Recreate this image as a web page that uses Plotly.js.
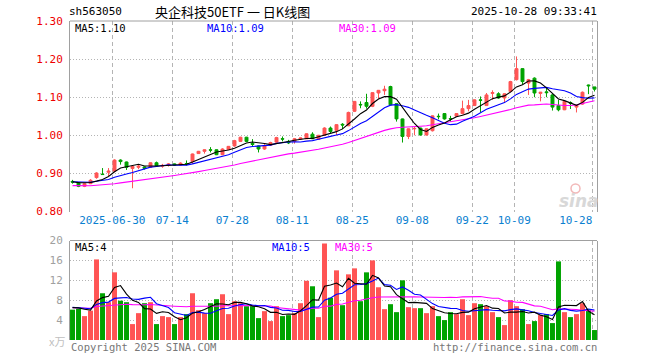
<!DOCTYPE html>
<html><head><meta charset="utf-8">
<script src="https://cdn.plot.ly/plotly-3.0.1.min.js"></script>
<style>html,body{margin:0;padding:0;background:#fff;}#c{width:660px;height:360px;}</style>
</head><body><div id="c"></div>
<script>
const dates = ["06-19","06-20","06-23","06-24","06-25","06-26","06-27","06-30",
"07-01","07-02","07-03","07-04","07-07","07-08","07-09","07-10","07-11","07-14","07-15","07-16","07-17","07-18","07-21","07-22","07-23","07-24","07-25","07-28","07-29","07-30","07-31",
"08-01","08-04","08-05","08-06","08-07","08-08","08-11","08-12","08-13","08-14","08-15","08-18","08-19","08-20","08-21","08-22","08-25","08-26","08-27","08-28","08-29",
"09-01","09-02","09-03","09-04","09-05","09-08","09-09","09-10","09-11","09-12","09-15","09-16","09-17","09-18","09-19","09-22","09-23","09-24","09-25","09-26","09-29","09-30",
"10-09","10-10","10-13","10-14","10-15","10-16","10-17","10-20","10-21","10-22","10-23","10-24","10-27","10-28"];

const openP = [0.879,0.876,0.866,0.873,0.889,0.898,0.903,0.906,0.935,0.930,
0.913,0.916,0.917,0.916,0.928,0.919,0.921,0.925,0.922,0.926,
0.931,0.952,0.958,0.962,0.962,0.949,0.963,0.972,0.984,0.995,
0.979,0.972,0.964,0.974,0.982,0.991,0.984,0.984,0.990,0.991,
1.003,0.989,1.000,1.019,1.013,1.029,1.025,1.063,1.081,1.086,
1.076,1.111,1.117,1.128,1.083,1.043,0.997,1.017,1.019,1.001,
1.012,1.050,1.057,1.044,1.050,1.057,1.070,1.078,1.093,1.078,
1.110,1.109,1.098,1.115,1.146,1.175,1.137,1.150,1.110,1.114,
1.106,1.078,1.067,1.086,1.074,1.082,1.132,1.127];

const highP = [0.883,0.877,0.874,0.885,0.903,0.914,0.914,0.937,0.937,0.931,
0.921,0.923,0.918,0.929,0.931,0.925,0.927,0.926,0.929,0.934,
0.952,0.959,0.963,0.969,0.963,0.966,0.972,0.988,0.996,0.996,
0.990,0.973,0.977,0.983,0.996,0.997,0.988,0.993,0.994,1.005,
1.008,1.001,1.021,1.023,1.029,1.032,1.062,1.090,1.089,1.109,
1.113,1.119,1.130,1.130,1.084,1.044,1.018,1.022,1.020,1.018,
1.052,1.057,1.058,1.051,1.058,1.091,1.093,1.094,1.102,1.111,
1.118,1.113,1.110,1.143,1.207,1.176,1.148,1.152,1.114,1.124,
1.108,1.093,1.090,1.089,1.080,1.115,1.133,1.127];

const lowP = [0.873,0.864,0.864,0.872,0.886,0.896,0.893,0.903,0.923,0.909,
0.861,0.911,0.910,0.915,0.918,0.915,0.918,0.920,0.921,0.921,
0.925,0.951,0.952,0.955,0.948,0.948,0.962,0.970,0.983,0.982,
0.970,0.955,0.962,0.972,0.980,0.984,0.977,0.978,0.989,0.990,
0.990,0.988,0.999,1.006,1.000,1.016,1.024,1.061,1.071,1.070,
1.074,1.096,1.106,1.079,1.036,0.981,0.990,1.000,0.999,0.999,
1.010,1.042,1.041,1.036,1.048,1.055,1.063,1.077,1.060,1.077,
1.093,1.096,1.085,1.113,1.144,1.133,1.106,1.100,1.089,1.100,
1.065,1.063,1.066,1.069,1.060,1.080,1.108,1.115];

const closeP = [0.877,0.866,0.873,0.882,0.901,0.897,0.906,0.935,0.931,0.916,
0.918,0.919,0.913,0.928,0.920,0.921,0.925,0.922,0.927,0.925,
0.951,0.958,0.962,0.961,0.949,0.964,0.971,0.986,0.995,0.984,
0.976,0.964,0.973,0.981,0.994,0.990,0.980,0.991,0.993,1.004,
0.991,1.000,1.019,1.010,1.028,1.027,1.060,1.089,1.080,1.076,
1.112,1.118,1.121,1.080,1.043,0.997,1.017,1.018,1.001,1.017,
1.051,1.049,1.043,1.043,1.057,1.070,1.078,1.093,1.092,1.106,
1.112,1.098,1.109,1.141,1.175,1.141,1.146,1.111,1.113,1.112,
1.074,1.067,1.089,1.084,1.079,1.113,1.130,1.121];

const volume = [6.1,6.3,4.8,5.9,16.2,9.4,7.6,13.6,7.9,7.6,
3.2,5.4,7.4,7.6,3.2,4.8,4.6,3.2,4.6,5.2,
9.4,6.0,5.4,7.4,8.2,9.2,5.2,7.8,7.4,6.8,
7.0,4.4,5.8,3.8,6.8,4.8,5.0,5.4,7.4,11.9,
10.8,4.6,19.4,8.5,14.0,7.0,13.2,14.4,7.8,13.6,
16.0,10.6,6.2,7.2,5.6,12.0,6.6,6.4,6.4,5.4,
6.8,4.8,4.0,5.6,5.2,8.2,5.0,7.4,7.2,6.8,
5.6,4.6,3.0,8.0,6.8,6.2,3.2,3.8,5.0,5.2,
3.4,15.8,5.6,4.6,5.2,7.4,6.2,2.0];

// earlier sessions (estimated) needed for the moving averages at the left edge
const preClose = [0.875,0.878,0.872,0.870,0.874,0.871,0.869,0.862,0.858,0.855,0.853,0.856,0.851,0.857,0.860,0.855,0.858,0.854,0.861,0.866,0.872,0.879,0.882,0.876,0.880,0.878,0.874,0.879,0.883];
const preVolume = [6.8,5.9,7.2,6.0,6.5,5.5,7.8,6.1,6.4,5.7,7.0,6.6,5.8,6.9,6.2,7.3,5.6,6.4,6.8,6.2,7.1,6.0,6.9,7.4,5.9,6.5,6.2,6.8,6.9];

const tickDates = ["06-30","07-14","07-28","08-11","08-25","09-08","09-22","10-09","10-28"];
const tickLabels = ["2025-06-30","07-14","07-28","08-11","08-25","09-08","09-22","10-09","10-28\u00a0\u00a0\u00a0\u00a0\u00a0"];
const priceTicks = [0.80,0.90,1.00,1.10,1.20,1.30];
const volTicks = [4,8,12,16,20];

const RED = "#ff5454", GREEN = "#00a300";
const mono = "DejaVu Sans Mono";

function movAvg(series, pre, n) {
  const all = pre.concat(series);
  return series.map((_, i) => {
    const j = i + pre.length; let s = 0;
    for (let k = j - n + 1; k <= j; k++) s += all[k];
    return s / n;
  });
}
const idx = dates.map((_, i) => i);
const tickVals = tickDates.map(d => dates.indexOf(d) - 0.37);
const upDown = closeP.map((c, i) => c >= openP[i] ? RED : GREEN);

const traces = [
  {type:"candlestick", x:idx, open:openP, high:highP, low:lowP, close:closeP,
   xaxis:"x", yaxis:"y", hoverinfo:"skip", whiskerwidth:0,
   increasing:{line:{color:RED,width:1}, fillcolor:RED},
   decreasing:{line:{color:GREEN,width:1}, fillcolor:GREEN}},
  {type:"scatter", mode:"lines", x:idx, y:movAvg(closeP, preClose, 30), line:{color:"#ff00ff",width:1.1}, xaxis:"x", yaxis:"y"},
  {type:"scatter", mode:"lines", x:idx, y:movAvg(closeP, preClose, 10), line:{color:"#0000ff",width:1.1}, xaxis:"x", yaxis:"y"},
  {type:"scatter", mode:"lines", x:idx, y:movAvg(closeP, preClose, 5), line:{color:"#000000",width:1.1}, xaxis:"x", yaxis:"y"},
  {type:"bar", x:idx, y:volume, width:0.83, marker:{color:upDown, line:{width:0}}, xaxis:"x2", yaxis:"y2", hoverinfo:"skip"},
  {type:"scatter", mode:"lines", x:idx, y:movAvg(volume, preVolume, 30), line:{color:"#ff00ff",width:1.1}, xaxis:"x2", yaxis:"y2"},
  {type:"scatter", mode:"lines", x:idx, y:movAvg(volume, preVolume, 10), line:{color:"#0000ff",width:1.1}, xaxis:"x2", yaxis:"y2"},
  {type:"scatter", mode:"lines", x:idx, y:movAvg(volume, preVolume, 5), line:{color:"#000000",width:1.1}, xaxis:"x2", yaxis:"y2"}
];

const L = 70, R = 597, T = 21, B = 340, W = R - L, H = B - T;
const px = x => (x - L) / W;
const py = y => (B - y) / H;
const gridV = {showgrid:true, gridcolor:"#b4b4b4", griddash:"4px,3px", gridwidth:1};
const xr = [-0.42, 87.42];

function ann(text, x, y, color, size, anchor, family) {
  return {text, x:px(x), y:py(y), xref:"paper", yref:"paper", showarrow:false,
    xanchor:anchor, yanchor:"middle", font:{family:family||mono, size, color}};
}

const layout = {
  width:660, height:360, margin:{l:L, r:660-R, t:T, b:360-B},
  paper_bgcolor:"#fff", plot_bgcolor:"#fff", showlegend:false,
  xaxis:Object.assign({domain:[0,1], anchor:"y", range:xr, tickvals:tickVals, ticktext:tickLabels,
    tickfont:{family:mono, size:11, color:"#0a80d0"}, ticks:"", showline:false, zeroline:false,
    rangeslider:{visible:false}, fixedrange:true}, gridV),
  yaxis:{domain:[py(211.5),1], anchor:"x", range:[0.80,1.30], tickvals:priceTicks,
    ticktext:priceTicks.map(v=>v.toFixed(2)), tickfont:{family:mono, size:11, color:"#ee0000"},
    ticks:"", ticklabelstandoff:4, showline:true, mirror:true, linecolor:"#a0a0a0", linewidth:1,
    showgrid:true, gridcolor:"#b4b4b4", griddash:"1px,2px", zeroline:false},
  xaxis2:Object.assign({domain:[0,1], anchor:"y2", range:xr, tickvals:tickVals, showticklabels:false,
    ticks:"", showline:false, zeroline:false}, gridV),
  yaxis2:{domain:[0, py(240.5)], anchor:"x2", range:[0,20], tickvals:volTicks,
    tickfont:{family:mono, size:11, color:"#a0a0a0"}, ticks:"", ticklabelstandoff:4,
    showline:true, mirror:true, linecolor:"#a0a0a0", linewidth:1,
    showgrid:true, gridcolor:"#b4b4b4", griddash:"1px,2px", zeroline:false},
  shapes:[
    {type:"line", xref:"paper", yref:"paper", x0:0, x1:1, y0:1, y1:1, line:{color:"#a0a0a0", width:1}},
    {type:"line", xref:"paper", yref:"paper", x0:0, x1:1, y0:py(240.5), y1:py(240.5), line:{color:"#a0a0a0", width:1}},
    {type:"circle", xref:"paper", yref:"paper", x0:px(571), x1:px(580), y0:py(193), y1:py(184),
     line:{color:"#f2b8b8", width:1.5}, fillcolor:"rgba(0,0,0,0)"}
  ],
  annotations:[
    ann("sh563050", 67, 12, "#000", 11, "left"),
    ann("央企科技50ETF 一 日K线图", 232, 12, "#000", 13, "center", "Noto Sans CJK SC"),
    ann("2025-10-28 09:33:41", 599, 12, "#000", 11, "right"),
    ann("MA5:1.10", 73, 28, "#000", 10.5, "left"),
    ann("MA10:1.09", 205, 28, "#0000ff", 10.5, "left"),
    ann("MA30:1.09", 337, 28, "#ff00ff", 10.5, "left"),
    ann("MA5:4", 73, 247, "#000", 10.5, "left"),
    ann("MA10:5", 270, 247, "#0000ff", 10.5, "left"),
    ann("MA30:5", 333, 247, "#ff00ff", 10.5, "left"),
    ann("x万", 57, 341, "#c0c0c0", 11, "center", "Noto Sans CJK SC"),
    ann("Copyright 2025 SINA.COM", 69, 347, "#777", 10.5, "left"),
    ann("http://finance.sina.com.cn", 599, 347, "#777", 10.5, "right"),
    {text:"<b><i>sina</i></b>", x:px(579), y:py(201), xref:"paper", yref:"paper", showarrow:false,
     xanchor:"center", yanchor:"middle", font:{family:"DejaVu Sans", size:17, color:"#d8d8d8"}}
  ]
};

Plotly.newPlot("c", traces, layout, {staticPlot:true, displayModeBar:false});
</script></body></html>
